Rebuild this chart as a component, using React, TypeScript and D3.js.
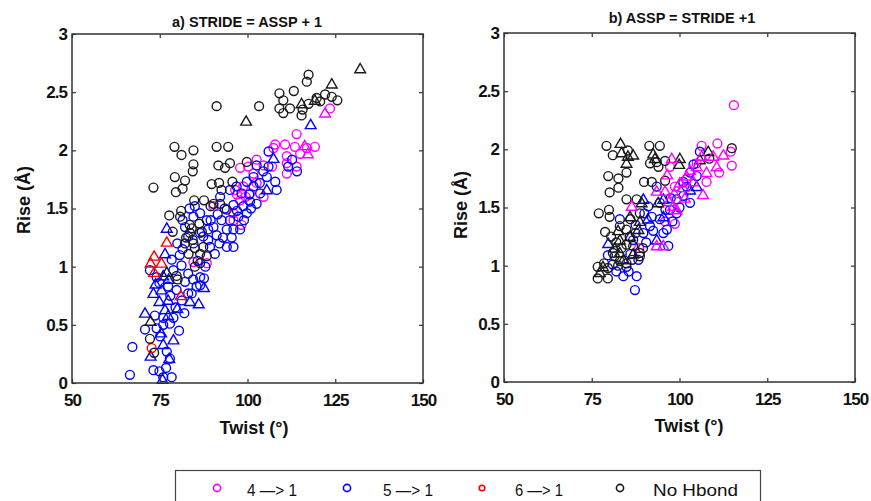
import React, { useEffect, useRef } from "react";
import * as d3 from "d3";

type P = [number, number];

const X_TICKS = [50, 75, 100, 125, 150];
const Y_TICKS = [0, 0.5, 1, 1.5, 2, 2.5, 3];
const TITLES = ["a) STRIDE = ASSP + 1", "b) ASSP = STRIDE +1"];
const LEGEND_LABELS = ["4 \u2014> 1", "5 \u2014> 1", "6 \u2014> 1", "No Hbond"];
const LEGEND_COLORS = ["#ff00ff", "#0000ff", "#ff0000", "#1a1a1a"];

// Panel a) STRIDE = ASSP + 1
const A_4_CIRCLE: P[] = [[123.5,2.36],[114.0,2.14],[110.7,2.05],[107.9,2.05],[113.5,2.03],[119.2,2.03],[116.9,2.02],[111.2,1.95],[115.0,1.97],[111.2,1.89],[111.2,1.80],[114.0,1.86],[107.4,2.02],[102.6,1.92],[104.6,1.87],[107.0,1.86],[100.2,1.86],[97.9,1.85],[101.7,1.80],[98.8,1.69],[96.5,1.66],[97.9,1.57],[100.7,1.63],[104.6,1.60],[102.6,1.72],[96.0,1.46],[98.3,1.36],[96.0,1.40],[90.3,1.52],[84.6,1.04],[88.4,1.03],[99.5,1.60],[97.0,1.62]];
const A_4_TRI: P[] = [[122.1,2.32],[116.3,2.04],[117.2,1.97]];
const A_5_CIRCLE: P[] = [[66.5,0.07],[67.2,0.31],[73.2,0.11],[76.0,0.05],[78.4,0.05],[77.9,0.21],[77.0,0.27],[70.8,0.46],[74.1,0.47],[76.0,0.50],[77.9,0.51],[75.1,0.40],[76.8,0.13],[74.9,0.10],[73.6,0.58],[76.0,0.56],[78.9,0.56],[81.3,0.71],[83.1,0.77],[84.5,0.89],[86.5,0.91],[87.6,0.90],[85.5,0.83],[82.2,0.87],[79.8,0.80],[78.9,0.97],[81.2,1.01],[78.4,1.06],[80.7,1.10],[84.1,0.77],[86.5,0.84],[74.1,0.91],[72.2,0.97],[74.9,0.86],[77.4,0.83],[83.1,0.94],[84.6,1.20],[86.5,1.29],[88.8,1.32],[91.2,1.27],[88.8,1.23],[90.7,1.11],[89.3,1.17],[92.0,1.20],[94.1,1.17],[96.0,1.17],[94.1,1.32],[96.0,1.32],[97.9,1.32],[92.6,1.40],[95.0,1.40],[97.4,1.43],[99.8,1.46],[82.2,1.34],[84.6,1.43],[86.5,1.46],[88.4,1.40],[90.3,1.34],[83.1,1.26],[87.4,1.26],[92.2,1.60],[95.0,1.66],[96.9,1.69],[99.8,1.73],[101.7,1.69],[103.6,1.63],[105.5,1.77],[107.9,1.73],[108.3,1.66],[106.0,1.86],[106.0,1.99],[102.6,1.54],[101.7,1.77],[102.6,1.87],[100.7,1.56],[98.8,1.52],[96.0,1.53],[98.3,1.63],[112.7,1.92],[114.1,1.82],[111.6,1.86],[80.0,1.20],[81.5,1.15],[85.8,1.05],[88.0,1.00],[79.5,0.65],[80.5,0.45],[78.0,0.75],[82.0,0.60],[93.5,1.50],[97.0,1.48],[100.5,1.62],[103.5,1.72],[104.5,1.82],[95.5,1.25],[91.5,1.45],[89.5,1.40],[93.0,1.25],[99.0,1.40],[101.0,1.50],[85.0,1.52],[83.5,1.50],[81.5,1.40]];
const A_5_TRI: P[] = [[77.0,1.33],[76.5,1.11],[118.0,2.22],[107.4,1.93],[105.5,1.66],[73.2,0.77],[70.8,0.60],[75.5,0.80],[77.4,0.71],[78.9,0.37],[72.4,0.23],[75.4,0.43],[76.0,0.33],[77.7,0.21],[80.0,0.64],[83.6,0.70],[86.1,0.68],[87.6,0.82],[77.5,0.89],[75.8,0.03],[76.5,0.63],[77.4,0.58],[74.9,0.70],[73.8,0.85],[76.0,0.92]];
const A_6_CIRCLE: P[] = [[72.7,0.30]];
const A_6_TRI: P[] = [[73.4,1.09],[72.4,1.03],[75.5,1.03],[73.4,0.95],[77.0,1.21],[81.0,0.75]];
const A_NO_CIRCLE: P[] = [[91.2,2.38],[103.3,2.38],[73.2,1.68],[79.2,2.03],[81.2,1.96],[84.6,2.00],[84.6,1.88],[84.4,1.82],[79.3,1.77],[82.2,1.74],[79.6,1.64],[81.5,1.67],[91.2,2.03],[94.5,2.03],[91.7,1.87],[95.0,1.89],[93.6,1.85],[99.8,1.90],[89.8,1.71],[91.9,1.72],[95.7,1.73],[84.8,1.57],[87.6,1.57],[81.1,1.48],[77.7,1.44],[80.8,1.43],[89.5,1.52],[92.2,1.54],[94.1,1.49],[84.1,1.33],[86.3,1.37],[83.6,1.29],[78.7,1.30],[82.2,1.20],[84.4,1.23],[85.0,1.16],[87.4,1.17],[83.2,1.11],[86.5,1.11],[88.4,1.09],[86.5,1.03],[85.0,1.00],[79.8,0.92],[80.1,0.89],[72.2,0.38],[73.4,0.26],[109.1,2.49],[110.2,2.43],[113.2,2.51],[117.4,2.65],[116.9,2.59],[109.1,2.36],[110.2,2.32],[112.1,2.36],[115.7,2.35],[115.4,2.30],[117.4,2.40],[120.7,2.42],[122.1,2.48],[124.0,2.46],[125.6,2.43],[119.7,2.45],[92.6,1.66],[90.3,1.54],[83.5,1.36],[82.5,1.25],[87.0,1.30]];
const A_NO_TRI: P[] = [[132.1,2.70],[124.0,2.57],[99.6,2.25],[119.2,2.43],[115.4,2.40],[77.0,0.95],[72.4,0.53]];

// Panel b) ASSP = STRIDE +1
const B_4_CIRCLE: P[] = [[115.5,2.38],[106.3,2.03],[110.8,2.05],[114.6,1.98],[114.9,1.86],[111.3,1.80],[107.7,1.72],[102.0,1.74],[98.7,1.68],[95.9,1.38],[98.7,1.36],[97.3,1.85],[104.9,1.88],[88.5,1.15]];
const B_4_TRI: P[] = [[97.8,1.92],[86.4,1.51],[93.5,1.64],[95.9,1.64],[101.1,1.67],[100.1,1.71],[98.2,1.51],[99.2,1.48],[93.5,1.17],[95.4,1.17],[103.0,1.82],[104.9,1.85],[106.7,1.61],[107.7,1.80],[109.6,1.94],[112.5,1.95],[110.6,1.85],[104.0,1.72],[106.3,1.94],[102.0,1.77],[96.5,1.78],[98.5,1.62],[101.5,1.58],[97.0,1.55]];
const B_5_CIRCLE: P[] = [[84.0,0.91],[87.8,0.91],[87.3,0.79],[81.0,1.01],[79.6,1.09],[83.0,1.40],[89.7,1.28],[91.6,1.34],[92.1,1.42],[94.4,1.40],[95.4,1.28],[96.8,1.17],[96.4,1.31],[97.3,1.48],[99.2,1.45],[99.2,1.57],[101.1,1.60],[102.0,1.68],[103.0,1.54],[101.1,1.72],[103.0,1.80],[104.9,1.77],[105.8,1.98],[104.0,1.87],[93.5,1.68],[94.4,1.54],[91.1,1.51],[86.8,1.22],[88.3,1.05],[84.9,0.99],[90.5,1.20],[92.5,1.30],[98.0,1.38],[100.0,1.50],[86.0,1.10],[82.0,0.95],[85.5,0.95],[90.0,1.45],[97.5,1.58],[96.0,1.48],[87.5,1.35]];
const B_5_TRI: P[] = [[79.7,1.19],[89.7,1.57],[93.5,1.22],[95.4,1.42],[103.0,1.65],[104.9,1.68],[95.4,1.57],[91.0,1.40]];
const B_NO_CIRCLE: P[] = [[79.2,2.03],[81.0,1.95],[85.3,1.99],[91.4,2.03],[94.4,2.03],[91.6,1.88],[93.5,1.89],[94.0,1.85],[95.9,1.90],[79.7,1.77],[82.6,1.75],[80.1,1.63],[82.6,1.67],[84.9,1.80],[84.9,1.57],[87.8,1.57],[89.9,1.72],[92.1,1.72],[95.9,1.73],[77.0,1.45],[79.9,1.48],[80.1,1.42],[78.8,1.29],[83.0,1.34],[84.9,1.31],[85.8,1.25],[84.9,1.18],[86.8,1.17],[88.7,1.11],[89.6,1.15],[83.0,1.04],[84.9,1.02],[76.7,0.99],[76.7,0.89],[79.6,0.89],[79.6,0.98],[81.0,1.11],[114.9,2.01],[88.7,1.08],[88.7,1.45],[82.0,1.20],[86.0,1.40],[87.5,1.28],[82.5,1.00],[108.5,1.92],[81.5,1.08],[83.5,1.15],[86.5,1.05],[80.5,1.25],[78.5,1.02]];
const B_NO_TRI: P[] = [[83.2,2.05],[83.5,1.97],[85.3,1.94],[86.8,1.95],[84.9,1.88],[92.5,1.96],[93.0,1.92],[100.1,1.92],[99.9,1.87],[108.2,1.98],[105.8,1.91],[85.9,1.42],[89.2,1.54],[88.7,1.38],[88.3,1.31],[83.0,1.22],[83.0,1.11],[84.0,1.05],[77.3,0.94],[78.2,0.99],[85.9,1.25],[93.9,1.54],[81.5,1.15],[86.8,1.10],[82.5,1.30]];

type Series = { pts: P[]; color: string; shape: "circle" | "triangle" };

const PANELS = [
  {
    title: TITLES[0], x0: 72, x1: 423, y0: 34, y1: 383, titleX: 247, titleY: 27, ylabX: 24, ylabY: 200,
    xlabX: 254, xlabY: 434,
    series: [
      { pts: A_4_CIRCLE, color: LEGEND_COLORS[0], shape: "circle" },
      { pts: A_4_TRI, color: LEGEND_COLORS[0], shape: "triangle" },
      { pts: A_5_CIRCLE, color: LEGEND_COLORS[1], shape: "circle" },
      { pts: A_5_TRI, color: LEGEND_COLORS[1], shape: "triangle" },
      { pts: A_6_CIRCLE, color: LEGEND_COLORS[2], shape: "circle" },
      { pts: A_6_TRI, color: LEGEND_COLORS[2], shape: "triangle" },
      { pts: A_NO_CIRCLE, color: LEGEND_COLORS[3], shape: "circle" },
      { pts: A_NO_TRI, color: LEGEND_COLORS[3], shape: "triangle" },
    ] as Series[],
  },
  {
    title: TITLES[1], x0: 504, x1: 855, y0: 33, y1: 382, titleX: 682, titleY: 23, ylabX: 461, ylabY: 205,
    xlabX: 689, xlabY: 432,
    series: [
      { pts: B_4_CIRCLE, color: LEGEND_COLORS[0], shape: "circle" },
      { pts: B_5_CIRCLE, color: LEGEND_COLORS[1], shape: "circle" },
      { pts: B_5_TRI, color: LEGEND_COLORS[1], shape: "triangle" },
      { pts: B_NO_CIRCLE, color: LEGEND_COLORS[3], shape: "circle" },
      { pts: B_NO_TRI, color: LEGEND_COLORS[3], shape: "triangle" },
      { pts: B_4_TRI, color: LEGEND_COLORS[0], shape: "triangle" },
    ] as Series[],
  },
];

const FONT = "'Liberation Sans', Arial, Helvetica, sans-serif";

export default function App() {
  const ref = useRef<SVGSVGElement | null>(null);

  useEffect(() => {
    const svg = d3.select(ref.current);
    svg.selectAll("*").remove();
    const circle = d3.symbol().type(d3.symbolCircle).size(62);
    const tri = d3.symbol().type(d3.symbolTriangle).size(50);

    PANELS.forEach((p) => {
      const x = d3.scaleLinear().domain([50, 150]).range([p.x0, p.x1]);
      const y = d3.scaleLinear().domain([0, 3]).range([p.y1, p.y0]);
      const g = svg.append("g");

      p.series.forEach((s) => {
        g.append("g")
          .selectAll("path")
          .data(s.pts)
          .join("path")
          .attr("d", (s.shape === "circle" ? circle : tri) as any)
          .attr("transform", (d) => `translate(${x(d[0])},${y(d[1]) + (s.shape === "triangle" ? 0.8 : 0)})`)
          .attr("fill", "none")
          .attr("stroke", s.color)
          .attr("stroke-width", 1.4);
      });

      const styleAxis = (sel: any, labels: boolean) => {
        sel.select(".domain").remove();
        sel.selectAll(".tick line").attr("stroke", "#333").attr("stroke-width", 1.2);
        sel.selectAll(".tick text")
          .attr("font-family", FONT)
          .attr("font-weight", "bold")
          .attr("font-size", 17)
          .attr("letter-spacing", -1)
          .attr("fill", "#111");
        if (!labels) sel.selectAll(".tick text").remove();
      };

      g.append("g").attr("transform", `translate(0,${p.y1})`)
        .call(d3.axisBottom(x).tickValues(X_TICKS).tickSize(-4).tickPadding(11).tickFormat(d3.format("d")) as any)
        .call((s: any) => styleAxis(s, true));
      g.append("g").attr("transform", `translate(0,${p.y0})`)
        .call(d3.axisTop(x).tickValues(X_TICKS).tickSize(-4) as any)
        .call((s: any) => styleAxis(s, false));
      g.append("g").attr("transform", `translate(${p.x0},0)`)
        .call(d3.axisLeft(y).tickValues(Y_TICKS).tickSize(-4).tickPadding(5).tickFormat((d: any) => String(d)) as any)
        .call((s: any) => styleAxis(s, true));
      g.append("g").attr("transform", `translate(${p.x1},0)`)
        .call(d3.axisRight(y).tickValues(Y_TICKS).tickSize(-4) as any)
        .call((s: any) => styleAxis(s, false));

      g.append("rect")
        .attr("x", p.x0).attr("y", p.y0)
        .attr("width", p.x1 - p.x0).attr("height", p.y1 - p.y0)
        .attr("fill", "none").attr("stroke", "#333").attr("stroke-width", 1.5);

      g.append("text").attr("x", p.titleX).attr("y", p.titleY)
        .attr("text-anchor", "middle").attr("font-family", FONT).attr("font-weight", "bold")
        .attr("font-size", 14.5).attr("fill", "#111").text(p.title);

      g.append("text").attr("transform", `translate(${p.ylabX},${p.ylabY}) rotate(-90)`)
        .attr("text-anchor", "middle").attr("dy", "0.35em").attr("font-family", FONT).attr("font-weight", "bold")
        .attr("font-size", 18).attr("fill", "#111").text("Rise (\u00c5)");

      g.append("text").attr("x", p.xlabX).attr("y", p.xlabY)
        .attr("text-anchor", "middle").attr("font-family", FONT).attr("font-weight", "bold")
        .attr("font-size", 18).attr("fill", "#111").text("Twist (\u00b0)");
    });

    // legend
    const lg = svg.append("g");
    lg.append("rect").attr("x", 175.5).attr("y", 470.5).attr("width", 585).attr("height", 40)
      .attr("fill", "white").attr("stroke", "#444").attr("stroke-width", 1.2);
    const lx = [217, 347, 482, 620];
    const tx = [247, 383, 515, 653];
    const tw = [50, 50, 48, 85];
    const lr = [3.6, 3.6, 2.8, 3.6];
    LEGEND_LABELS.forEach((lab, i) => {
      lg.append("circle").attr("cx", lx[i]).attr("cy", 488).attr("r", lr[i])
        .attr("fill", "none").attr("stroke", LEGEND_COLORS[i]).attr("stroke-width", 1.6);
      lg.append("text").attr("x", tx[i]).attr("y", 495.5).attr("font-family", FONT)
        .attr("font-size", 16.5).attr("textLength", tw[i]).attr("lengthAdjust", "spacingAndGlyphs")
        .attr("fill", "#111").text(lab);
    });
  }, []);

  return (
    <svg ref={ref} width={871} height={501} style={{ position: "absolute", left: 0, top: 0, background: "white" }} />
  );
}
